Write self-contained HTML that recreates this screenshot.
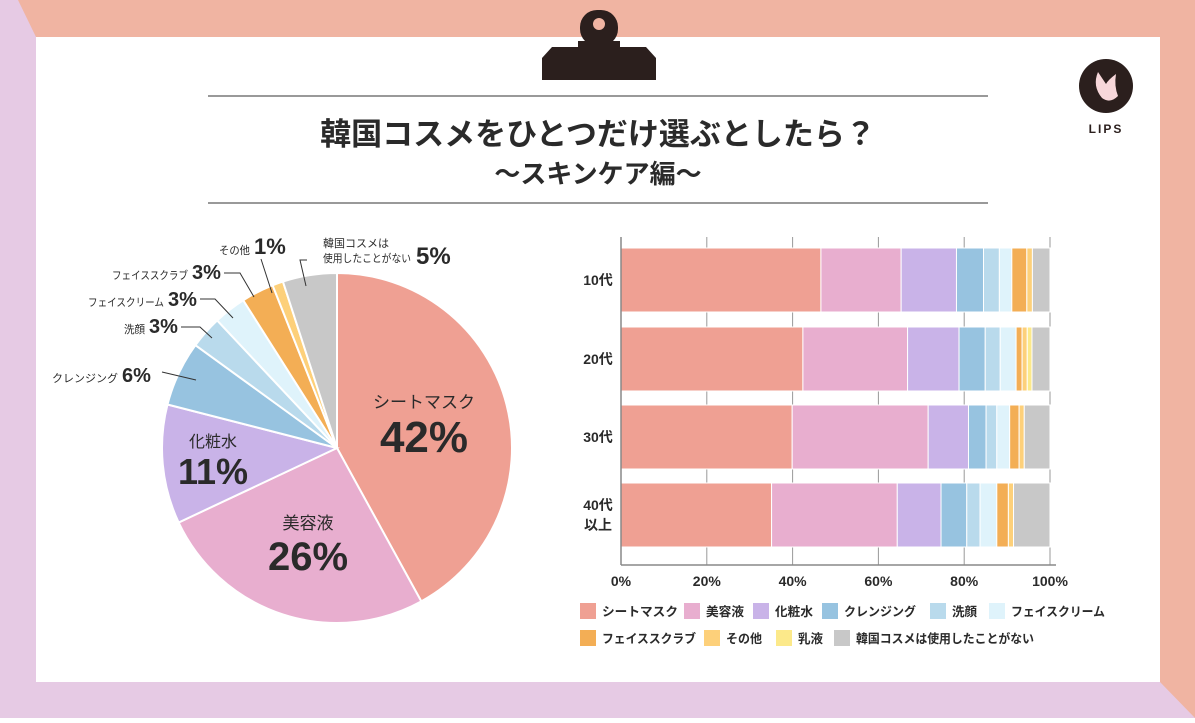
<!DOCTYPE html>
<html><head><meta charset="utf-8">
<style>
body{margin:0;width:1195px;height:718px;overflow:hidden;font-family:"Liberation Sans","Noto Sans CJK JP",sans-serif;}
svg text{font-family:"Liberation Sans","Noto Sans CJK JP",sans-serif;}
</style></head>
<body>
<svg width="1195" height="718" viewBox="0 0 1195 718">
<rect x="0" y="0" width="1195" height="718" fill="#F0B4A2"/>
<polygon points="0,0 18,0 36,37 36,718 0,718" fill="#E6CAE4"/>
<polygon points="0,682 1160,682 1195,718 0,718" fill="#E6CAE4"/>
<rect x="36" y="37" width="1124" height="645" fill="#fff"/>
<g fill="#2B1F1D">
<rect x="580" y="10" width="38" height="36" rx="17"/>
<circle cx="599" cy="24" r="6" fill="#F0B4A2"/>
<rect x="578" y="41" width="42" height="6"/>
<path d="M552,47 H646 L656,58 V80 H542 V58 Z"/>
</g>
<line x1="208" y1="96" x2="988" y2="96" stroke="#999" stroke-width="2"/>
<line x1="208" y1="203" x2="988" y2="203" stroke="#999" stroke-width="2"/>
<text x="598" y="145" text-anchor="middle" font-size="31" font-weight="bold" fill="#2a2a2a">韓国コスメをひとつだけ選ぶとしたら？</text>
<text x="598" y="183" text-anchor="middle" font-size="26" font-weight="bold" fill="#2a2a2a">〜スキンケア編〜</text>
<g>
<circle cx="1106" cy="86" r="27" fill="#2B1F1D"/>
<path d="M1098,72 q-6,14 4,26 q8,6 16,-2 q-4,-10 -2,-22 q-8,6 -10,10 q-4,-6 -8,-12z" fill="#F7D7DA"/>
<text x="1106" y="133" text-anchor="middle" font-size="12" font-weight="bold" letter-spacing="2" fill="#2B1F1D">LIPS</text>
</g>
<g id="pie"></g>
<g id="bars"></g>
<g id="legend"></g>
</svg>
<script>
const pieCategories=["シートマスク","美容液","化粧水","クレンジング","洗顔","フェイスクリーム","フェイススクラブ","その他","韓国コスメは使用したことがない"];
const pieValues=[42,26,11,6,3,3,3,1,5];
const pieColors=["#EFA093","#E8AECF","#C9B3E8","#97C3E0","#B9DAEC","#DFF3FB","#F3AE55","#FDD07A","#C8C8C8"];
const barAges=["10代","20代","30代","40代\n以上"];
const legendNames=["シートマスク","美容液","化粧水","クレンジング","洗顔","フェイスクリーム","フェイススクラブ","その他","乳液","韓国コスメは使用したことがない"];
const barColors=["#EFA093","#E8AECF","#C9B3E8","#97C3E0","#B9DAEC","#DFF3FB","#F3AE55","#FDD07A","#FCE98A","#C8C8C8"];
const s10=[46.6,18.7,12.9,6.3,3.7,2.9,3.5,1.3,0,4.1];
const s20=[42.4,24.4,12.0,6.1,3.5,3.7,1.4,1.2,1.1,4.2];
const s30=[39.9,31.7,9.4,4.1,2.5,3.0,2.2,1.2,0,6.0];
const s40=[35.1,29.3,10.2,6.0,3.1,3.9,2.7,1.2,0,8.5];
const xTicks=[0,20,40,60,80,100];
const NS="http://www.w3.org/2000/svg";
function mk(tag,attrs,parent){const e=document.createElementNS(NS,tag);for(const k in attrs)e.setAttribute(k,attrs[k]);parent.appendChild(e);return e;}
const pie=document.getElementById('pie');
const cx=337,cy=448,R=175;
const tot=pieValues.reduce((a,b)=>a+b,0);
let acc=0;
function pt(f,r){const a=f*2*Math.PI-Math.PI/2;return [cx+r*Math.cos(a),cy+r*Math.sin(a)];}
pieValues.forEach((v,i)=>{
 const f0=acc/tot,f1=(acc+v)/tot;acc+=v;
 const p0=pt(f0,R),p1=pt(f1,R);
 const large=(f1-f0)>0.5?1:0;
 const p=mk('path',{d:`M${cx},${cy} L${p0[0]},${p0[1]} A${R},${R} 0 ${large} 1 ${p1[0]},${p1[1]} Z`,fill:pieColors[i],stroke:'#fff','stroke-width':2},pie);
 
 
});
function txt(parent,x,y,s,size,opts){const t=mk('text',Object.assign({x:x,y:y,'font-size':size,fill:'#2a2a2a'},opts||{}),parent);t.textContent=s;return t;}
const inner=[[pieCategories[0],pieValues[0],424,408,17,44,452],[pieCategories[1],pieValues[1],308,529,17,40,570],[pieCategories[2],pieValues[2],213,447,16,36,484]];
inner.forEach((d,i)=>{
 const a=txt(pie,d[2],d[3],d[0],d[4],{'text-anchor':'middle'});
 
 
 const b=txt(pie,d[2],d[6],d[1]+'%',d[5],{'text-anchor':'middle','font-weight':'bold'});
 
 
});
const outer=[[3,52,382,"M162,372 L196,380",66],[4,124,333,"M181,327 L200,327 L212,338",21],[5,88,306,"M200,299 L215,299 L233,318",76],[6,112,279,"M224,273 L240,273 L254,297",76],[7,219,254,"M261,259 L272,293",31]];
outer.forEach(d=>{
 const i=d[0];
 const g=mk('g',{},pie);
 
 
 const n=mk('text',{x:d[1],y:d[2],fill:'#2a2a2a','font-size':11,textLength:d[4],lengthAdjust:'spacingAndGlyphs'},g);
 n.textContent=pieCategories[i];
 const v=mk('text',{x:d[1]+d[4]+4,y:d[2],fill:'#2a2a2a','font-size':i==7?22:20,'font-weight':'bold'},g);
 v.textContent=pieValues[i]+'%';
 mk('path',{d:d[3],stroke:'#333','stroke-width':1,fill:'none'},g);
});
{const g=mk('g',{},pie);
 
 
 const a=txt(g,323,247,'韓国コスメは',11);
 a.setAttribute('textLength',66);a.setAttribute('lengthAdjust','spacingAndGlyphs');
 const b=txt(g,323,262,'使用したことがない',11);
 b.setAttribute('textLength',88);b.setAttribute('lengthAdjust','spacingAndGlyphs');
 txt(g,416,264,pieValues[8]+'%',24,{'font-weight':'bold'});
 mk('path',{d:"M307,260 L300,260 L306,286",stroke:'#333','stroke-width':1,fill:'none'},g);}
const bars=document.getElementById('bars');
const X0=621,X1=1050;const xs=v=>X0+(X1-X0)*v/100;
const rowsY=[248,327,405,483],bh=64;
xTicks.forEach(t=>{
 const l=mk('line',{x1:xs(t),x2:xs(t),y1:237,y2:565,stroke:'#999','stroke-width':1},bars);
 
 
 const tx=txt(bars,xs(t),586,t+'%',14,{'text-anchor':'middle','font-weight':'bold'});
 
 
});
mk('line',{x1:X0,x2:X1+6,y1:565,y2:565,stroke:'#888','stroke-width':1.5},bars);
[s10,s20,s30,s40].forEach((series,r)=>{
 let a=0;
 series.forEach((v,k)=>{
  if(v<=0)return;
  const rc=mk('rect',{x:xs(a),y:rowsY[r],width:xs(a+v)-xs(a),height:bh,fill:barColors[k],stroke:'#fff','stroke-width':1},bars);
  
  
  a+=v;
 });
 const last=xs(a);
 if(a<100){mk('rect',{x:last,y:rowsY[r],width:X1-last,height:bh,fill:barColors[9]},bars);}
 const lines=barAges[r].split('\n');
 lines.forEach((s,j)=>{
  const yy=rowsY[r]+bh/2+5+(lines.length>1?(j-0.5)*20:0);
  const t=txt(bars,598,yy,s,14,{'text-anchor':'middle','font-weight':'bold'});
  
  
 });
});
mk('line',{x1:X0,x2:X0,y1:237,y2:565,stroke:'#888','stroke-width':1.5},bars);
const lg=document.getElementById('legend');
const legPos=[[580,611],[684,611],[753,611],[822,611],[930,611],[989,611],[580,638],[704,638],[776,638],[834,638]];
const legW=[76,38,38,72,25,94,94,36,25,178];
legendNames.forEach((n,i)=>{
 const g=mk('g',{},lg);
 
 
 mk('rect',{x:legPos[i][0],y:legPos[i][1]-8,width:16,height:16,fill:barColors[i]},g);
 const t=txt(g,legPos[i][0]+22,legPos[i][1]+5,n,12.5,{'font-weight':'bold',textLength:legW[i],lengthAdjust:'spacingAndGlyphs'});
});
</script>
</body></html>
